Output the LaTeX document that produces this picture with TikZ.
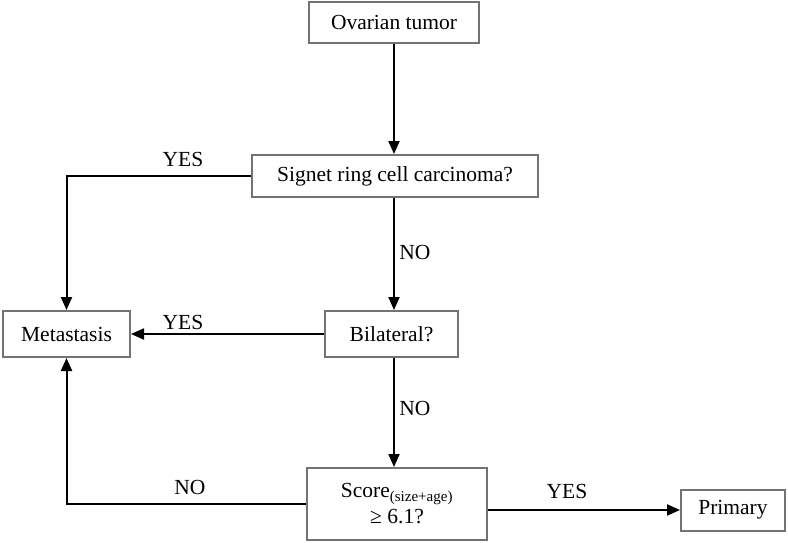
\documentclass[tikz,border=0pt]{standalone}
\usepackage{fontspec}
\setmainfont{Liberation Serif}
\usetikzlibrary{arrows.meta}
\begin{document}
\begin{tikzpicture}[x=1pt,y=-1pt,
    box/.style={draw=black!55,line width=2pt,inner sep=0pt,align=center,font=\fontsize{21.5}{26}\selectfont},
    arr/.style={line width=2pt,-{Triangle[length=13pt,width=11pt]}},
    lbl/.style={inner sep=0pt,font=\fontsize{21.5}{26}\selectfont}]
    \useasboundingbox (0,0) rectangle (788,543);

    \node[box,minimum width=170pt,minimum height=41pt] (tumor) at (394,22.5) {Ovarian tumor};
    \node[box,minimum width=286pt,minimum height=42pt] (signet) at (395,176) {Signet ring cell carcinoma?};
    \node[box,minimum width=127pt,minimum height=46pt] (meta) at (66.5,334) {Metastasis};
    \node[box,minimum width=133pt,minimum height=46pt] (bil) at (391.5,334) {Bilateral?};
    \node[box,minimum width=180pt,minimum height=72pt] (score) at (397,504) {Score\textsubscript{(size+age)}\\ ≥ 6.1?};
    \node[box,minimum width=104pt,minimum height=41pt] (prim) at (733,510) {Primary};

    \draw[arr] (tumor.south) -- (tumor.south |- signet.north);
    \draw[arr] (tumor |- signet.south) -- (tumor |- bil.north);
    \draw[arr] (tumor |- bil.south) -- (tumor |- score.north);
    \draw[arr] (signet.west) -| (meta.north);
    \draw[arr] (bil.west) -- (meta.east);
    \draw[arr] (score.west) -| (meta.south);
    \draw[arr] (score.east |- prim) -- (prim.west);

    \node[lbl] (yes1) at (183,159) {YES};
    \node[lbl] (no1) at (415,252) {NO};
    \node[lbl] (yes2) at (183,322) {YES};
    \node[lbl] (no2) at (415,408) {NO};
    \node[lbl] (no3) at (190,487) {NO};
    \node[lbl] (yes3) at (567,491) {YES};
\end{tikzpicture}
\end{document}
